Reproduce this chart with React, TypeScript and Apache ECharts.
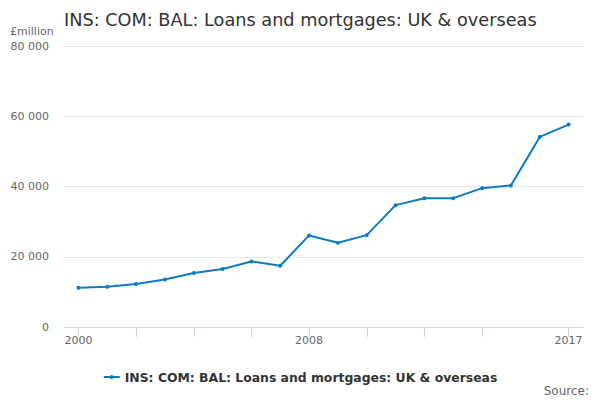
import React, { useEffect, useRef } from "react";
import * as echarts from "echarts";

const years = ["2000","2001","2002","2003","2004","2005","2006","2007","2008","2009","2010","2011","2012","2013","2014","2015","2016","2017"];
const values = [11190, 11470, 12230, 13550, 15360, 16490, 18670, 17440, 26070, 23980, 26160, 34690, 36680, 36680, 39530, 40280, 54120, 57630];
const yTicks = [0, 20000, 40000, 60000, 80000];
const labelYears = ["2000", "2008", "2017"];
const tickYears = ["2000","2002","2004","2006","2008","2010","2012","2014","2017"];
const seriesName = "INS: COM: BAL: Loans and mortgages: UK & overseas";
const titleText = "INS: COM: BAL: Loans and mortgages: UK & overseas";
const unitText = "£million";
const sourceText = "Source:";

const FONT = "DejaVu Sans";
const BLUE = "#0c7bc2";

export default function App() {
  const ref = useRef<HTMLDivElement>(null);
  useEffect(() => {
    if (!ref.current) return;
    const chart = echarts.init(ref.current, null, { renderer: "svg" });
    chart.setOption({
      animation: false,
      textStyle: { fontFamily: FONT },
      title: {
        text: titleText,
        left: 59,
        top: 6,
        textStyle: { fontFamily: FONT, fontSize: 17.7, fontWeight: "normal", color: "#333333" },
      },
      graphic: [
        { type: "text", left: 10, top: 26, style: { text: unitText, fontFamily: FONT, fontSize: 11, fill: "#666666" } },
        { type: "text", right: 11, top: 385, style: { text: sourceText, fontFamily: FONT, fontSize: 12, fill: "#666666" } },
      ],
      legend: {
        data: [seriesName],
        left: "center",
        top: 366,
        itemWidth: 16,
        itemHeight: 5,
        itemGap: 4,
        textStyle: { fontFamily: FONT, fontSize: 12.4, fontWeight: "bold", color: "#333333" },
      },
      grid: { left: 64, right: 17, top: 46, bottom: 73 },
      xAxis: {
        type: "category",
        data: years,
        boundaryGap: true,
        axisLine: { lineStyle: { color: "#ccd6eb" } },
        axisTick: {
          show: true,
          alignWithLabel: true,
          length: 10,
          lineStyle: { color: "#ccd6eb", width: 1 },
          interval: (i: number) => tickYears.includes(years[i]),
        },
        axisLabel: {
          interval: (i: number) => labelYears.includes(years[i]),
          fontFamily: FONT,
          fontSize: 11,
          color: "#666666",
          margin: 8,
        },
      },
      yAxis: {
        type: "value",
        min: yTicks[0],
        max: yTicks[yTicks.length - 1],
        interval: 20000,
        axisLine: { show: false },
        axisTick: { show: false },
        splitLine: { lineStyle: { color: "#e6e6e6" } },
        axisLabel: {
          fontFamily: FONT,
          fontSize: 11,
          color: "#666666",
          margin: 15,
          formatter: (v: number) => String(v).replace(/\B(?=(\d{3})+(?!\d))/g, " "),
        },
      },
      series: [
        {
          name: seriesName,
          type: "line",
          data: values,
          color: BLUE,
          symbol: "circle",
          symbolSize: 4,
          lineStyle: { width: 2, color: BLUE },
          itemStyle: { color: BLUE },
        },
      ],
    });
    return () => chart.dispose();
  }, []);
  return <div ref={ref} style={{ width: 600, height: 400, position: "absolute", left: 0, top: 0 }} />;
}
